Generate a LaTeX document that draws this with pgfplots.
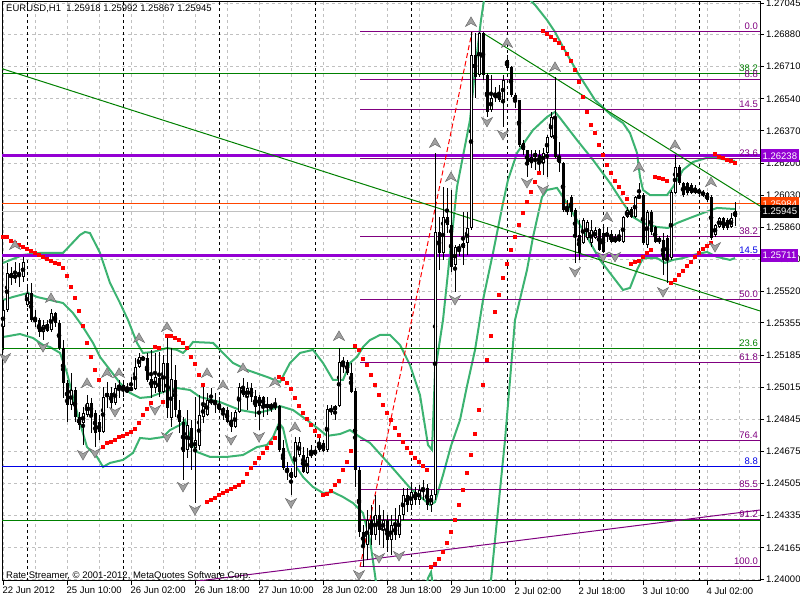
\documentclass[border=0pt]{standalone}
\usepackage{pgfplots}
\pgfplotsset{compat=1.18}
\usepackage{pgfplotstable}
\usepackage{fontspec}
\setmainfont{Liberation Sans}

\definecolor{bband}{RGB}{60,179,113}
\definecolor{fib}{RGB}{128,0,128}
\definecolor{dviolet}{RGB}{148,0,211}
\definecolor{lgreen}{RGB}{0,128,0}
\definecolor{lblue}{RGB}{0,0,230}
\definecolor{gridc}{RGB}{192,192,192}
\definecolor{ored}{RGB}{255,69,0}
\definecolor{fracfill}{RGB}{160,160,160}
\definecolor{fracdraw}{RGB}{110,110,110}

\pgfdeclareplotmark{fracup}{%
  \pgfpathmoveto{\pgfpoint{0bp}{5bp}}%
  \pgfpathlineto{\pgfpoint{5.5bp}{-4.5bp}}%
  \pgfpathlineto{\pgfpoint{0bp}{-1.5bp}}%
  \pgfpathlineto{\pgfpoint{-5.5bp}{-4.5bp}}%
  \pgfpathclose
  \pgfusepathqfillstroke}
\pgfdeclareplotmark{fracdown}{%
  \pgfpathmoveto{\pgfpoint{0bp}{-5bp}}%
  \pgfpathlineto{\pgfpoint{5.5bp}{4.5bp}}%
  \pgfpathlineto{\pgfpoint{0bp}{1.5bp}}%
  \pgfpathlineto{\pgfpoint{-5.5bp}{4.5bp}}%
  \pgfpathclose
  \pgfusepathqfillstroke}

\newcommand\lbl{\fontsize{9.5bp}{11bp}\selectfont}
\newcommand\fiblab[3]{\node[anchor=base east, inner sep=0pt, text=#1, font=\lbl, yshift=2bp] at (axis cs:188.75,#2) {#3};}
\newcommand\pricebox[3]{\node[anchor=west, fill=#1, text=white, inner xsep=2bp, inner ysep=0pt, minimum height=13bp, font=\lbl, xshift=0.5bp] at (axis cs:189.25,#2) {#3};}

% EURUSD H1 bars: index, open, high, low, close
\pgfplotstableread{
i o h l c
0 1.25333 1.25476 1.25211 1.25423
1 1.25423 1.25672 1.25412 1.25619
2 1.25619 1.25651 1.25555 1.25592
3 1.25592 1.25677 1.25566 1.25608
4 1.25619 1.25672 1.25545 1.25608
5 1.25598 1.25704 1.25571 1.25677
6 1.25450 1.25555 1.25439 1.25513
7 1.25513 1.25566 1.25360 1.25370
8 1.25381 1.25423 1.25333 1.25360
9 1.25370 1.25381 1.25280 1.25307
10 1.25307 1.25370 1.25264 1.25344
11 1.25349 1.25370 1.25307 1.25312
12 1.25317 1.25428 1.25307 1.25407
13 1.25407 1.25413 1.25333 1.25354
14 1.25354 1.25370 1.25211 1.25222
15 1.25222 1.25264 1.24958 1.25037
16 1.25037 1.25053 1.24831 1.24921
17 1.24921 1.25090 1.24894 1.25000
18 1.25000 1.25016 1.24831 1.24857
19 1.24857 1.24884 1.24788 1.24815
20 1.24825 1.24910 1.24709 1.24878
21 1.24868 1.24973 1.24857 1.24931
22 1.24931 1.24958 1.24772 1.24868
23 1.24878 1.24894 1.24698 1.24772
24 1.24831 1.24868 1.24735 1.24778
25 1.24778 1.25016 1.24772 1.24963
26 1.24963 1.25042 1.24905 1.24984
27 1.24984 1.25016 1.24894 1.24931
28 1.24931 1.25037 1.24921 1.25010
29 1.25010 1.25053 1.24958 1.25026
30 1.25026 1.25042 1.24963 1.25000
31 1.24989 1.25037 1.24984 1.25005
32 1.25000 1.25069 1.24995 1.25010
33 1.25005 1.25169 1.25000 1.25122
34 1.25122 1.25196 1.25116 1.25175
35 1.25164 1.25180 1.25153 1.25169
36 1.25169 1.25196 1.25042 1.25053
37 1.25058 1.25212 1.24958 1.25010
38 1.25010 1.25196 1.24984 1.25069
39 1.25063 1.25201 1.24963 1.24989
40 1.24989 1.25185 1.24984 1.25143
41 1.25143 1.25280 1.24852 1.24905
42 1.24852 1.25222 1.24804 1.25058
43 1.25053 1.25132 1.24857 1.24894
44 1.24894 1.24947 1.24772 1.24831
45 1.24831 1.24857 1.24524 1.24672
46 1.24683 1.24894 1.24640 1.24815
47 1.24799 1.24841 1.24577 1.24693
48 1.24693 1.24963 1.24402 1.24735
49 1.24704 1.24973 1.24683 1.24868
50 1.24857 1.25026 1.24825 1.24915
51 1.24868 1.24984 1.24862 1.24947
52 1.24947 1.25010 1.24921 1.24936
53 1.24931 1.24984 1.24878 1.24942
54 1.24926 1.24963 1.24878 1.24894
55 1.24905 1.24910 1.24841 1.24884
56 1.24894 1.24910 1.24825 1.24831
57 1.24841 1.24884 1.24778 1.24804
58 1.24804 1.24894 1.24799 1.24884
59 1.24884 1.25037 1.24878 1.25016
60 1.25010 1.25063 1.24963 1.24973
61 1.24963 1.25042 1.24894 1.25010
62 1.25010 1.25037 1.24936 1.24963
63 1.24968 1.25000 1.24857 1.24910
64 1.24963 1.24973 1.24788 1.24915
65 1.24963 1.24968 1.24857 1.24915
66 1.24921 1.24963 1.24868 1.24910
67 1.24910 1.24931 1.24884 1.24921
68 1.24921 1.24958 1.24894 1.24910
69 1.24915 1.24921 1.24672 1.24683
70 1.24693 1.24735 1.24577 1.24587
71 1.24587 1.24619 1.24524 1.24566
72 1.24566 1.24587 1.24444 1.24534
73 1.24540 1.24751 1.24534 1.24725
74 1.24656 1.24751 1.24646 1.24725
75 1.24656 1.24698 1.24561 1.24566
76 1.24561 1.24693 1.24556 1.24646
77 1.24656 1.24709 1.24640 1.24667
78 1.24667 1.24698 1.24651 1.24672
79 1.24720 1.24762 1.24672 1.24683
80 1.24720 1.24735 1.24672 1.24677
81 1.24683 1.24921 1.24672 1.24899
82 1.24889 1.24921 1.24868 1.24899
83 1.24894 1.24921 1.24841 1.24915
84 1.24915 1.25222 1.24910 1.25148
85 1.25143 1.25175 1.25090 1.25148
86 1.25148 1.25159 1.25079 1.25090
87 1.25090 1.25143 1.24984 1.24989
88 1.24995 1.25010 1.24487 1.24577
89 1.24577 1.24593 1.24222 1.24249
90 1.24249 1.24286 1.24064 1.24180
91 1.24180 1.24365 1.24101 1.24312
92 1.24312 1.24392 1.24180 1.24233
93 1.24233 1.24444 1.24206 1.24339
94 1.24339 1.24392 1.24180 1.24259
95 1.24259 1.24365 1.24164 1.24312
96 1.24312 1.24339 1.24143 1.24206
97 1.24206 1.24339 1.24127 1.24286
98 1.24286 1.24376 1.24206 1.24233
99 1.24233 1.24392 1.24217 1.24339
100 1.24339 1.24482 1.24312 1.24444
101 1.24444 1.24482 1.24355 1.24392
102 1.24392 1.24497 1.24365 1.24460
103 1.24460 1.24487 1.24392 1.24418
104 1.24418 1.24497 1.24392 1.24471
105 1.24471 1.24524 1.24418 1.24482
106 1.24482 1.24503 1.24365 1.24392
107 1.24392 1.24471 1.24355 1.24444
108 1.24444 1.26254 1.24418 1.25836
109 1.25836 1.25915 1.25635 1.25725
110 1.25725 1.26074 1.25688 1.25915
111 1.25915 1.26069 1.25830 1.25873
112 1.25873 1.26058 1.25624 1.25651
113 1.25661 1.25767 1.25518 1.25756
114 1.25746 1.25772 1.25709 1.25756
115 1.25751 1.25942 1.25661 1.25778
116 1.25778 1.25942 1.25714 1.25857
117 1.25857 1.26894 1.25846 1.26772
118 1.26772 1.26888 1.26545 1.26656
119 1.26666 1.26894 1.26656 1.26888
120 1.26888 1.26894 1.26640 1.26666
121 1.26666 1.26677 1.26444 1.26471
122 1.26481 1.26666 1.26471 1.26545
123 1.26545 1.26603 1.26523 1.26571
124 1.26571 1.26613 1.26523 1.26534
125 1.26534 1.26666 1.26391 1.26640
126 1.26746 1.26772 1.26693 1.26703
127 1.26709 1.26714 1.26550 1.26560
128 1.26560 1.26571 1.26492 1.26523
129 1.26534 1.26534 1.26285 1.26296
130 1.26307 1.26322 1.26243 1.26270
131 1.26270 1.26270 1.26127 1.26190
132 1.26201 1.26270 1.26174 1.26233
133 1.26254 1.26270 1.26164 1.26233
134 1.26243 1.26270 1.26137 1.26201
135 1.26201 1.26280 1.26137 1.26254
136 1.26254 1.26349 1.26127 1.26338
137 1.26338 1.26471 1.26333 1.26444
138 1.26444 1.26656 1.26227 1.26233
139 1.26233 1.26312 1.26153 1.26201
140 1.26201 1.26206 1.25942 1.25952
141 1.25963 1.26005 1.25926 1.25942
142 1.26021 1.26031 1.25915 1.25942
143 1.25952 1.25963 1.25672 1.25809
144 1.25820 1.25899 1.25688 1.25725
145 1.25778 1.25910 1.25772 1.25899
146 1.25804 1.25899 1.25793 1.25889
147 1.25778 1.25899 1.25756 1.25846
148 1.25804 1.25862 1.25799 1.25846
149 1.25852 1.25857 1.25735 1.25741
150 1.25830 1.25862 1.25725 1.25730
151 1.25825 1.25862 1.25783 1.25820
152 1.25825 1.25846 1.25778 1.25783
153 1.25783 1.25825 1.25778 1.25804
154 1.25788 1.25846 1.25783 1.25809
155 1.25783 1.25920 1.25778 1.25915
156 1.25915 1.25968 1.25910 1.25952
157 1.25957 1.25968 1.25910 1.25915
158 1.25915 1.26026 1.25910 1.26021
159 1.26016 1.26095 1.26010 1.26031
160 1.26031 1.26042 1.25767 1.25778
161 1.25767 1.25952 1.25751 1.25942
162 1.25942 1.25952 1.25820 1.25836
163 1.25862 1.25868 1.25778 1.25783
164 1.25783 1.25815 1.25772 1.25804
165 1.25793 1.25830 1.25608 1.25688
166 1.25804 1.25820 1.25566 1.25688
167 1.25698 1.26058 1.25688 1.26047
168 1.26042 1.26243 1.26037 1.26180
169 1.26180 1.26190 1.26084 1.26095
170 1.26095 1.26100 1.26021 1.26031
171 1.26095 1.26100 1.26031 1.26042
172 1.26084 1.26095 1.26037 1.26042
173 1.26069 1.26084 1.26037 1.26042
174 1.26058 1.26063 1.26037 1.26042
175 1.26047 1.26058 1.26021 1.26031
176 1.26042 1.26047 1.25994 1.26005
177 1.26021 1.26031 1.25793 1.25804
178 1.25820 1.25878 1.25809 1.25873
179 1.25862 1.25915 1.25857 1.25910
180 1.25910 1.25915 1.25846 1.25857
181 1.25899 1.25910 1.25846 1.25857
182 1.25862 1.25936 1.25857 1.25910
183 1.25918 1.25992 1.25867 1.25945
}\bars

\begin{document}
\begin{tikzpicture}
\useasboundingbox (-2bp,-19bp) rectangle (798bp,581bp);
\begin{axis}[
  scale only axis, width=758bp, height=579bp,
  xmin=-0.25, xmax=189.25, ymin=1.239895, ymax=1.270524,
  clip mode=individual,
  axis line style={black, line width=1bp},
  tick align=outside, major tick length=4bp, minor tick length=0pt,
  tick style={black, line width=1bp},
  xtick pos=bottom, ytick pos=right,
  xtick={0,16,...,176},
  xticklabels={22 Jun 2012,25 Jun 10:00,26 Jun 02:00,26 Jun 18:00,27 Jun 10:00,28 Jun 02:00,28 Jun 18:00,29 Jun 10:00,2 Jul 02:00,2 Jul 18:00,3 Jul 10:00,4 Jul 02:00},
  minor xtick={8,24,...,184},
  xmajorgrids, xminorgrids, ymajorgrids,
  major grid style={gridc, dash pattern=on 3bp off 3bp, line width=1bp},
  minor grid style={gridc, dash pattern=on 3bp off 3bp, line width=1bp},
  extra x ticks={6,30,54,78,102,126,150,174},
  extra x tick labels={},
  extra x tick style={major tick length=0pt, major grid style={black, dash pattern=on 3bp off 3bp, line width=1bp}},
  ytick={1.24,1.24165,1.24335,1.24505,1.24675,1.24845,1.25015,1.25185,1.25355,1.2552,1.2569,1.2586,1.2603,1.262,1.2637,1.2654,1.2671,1.2688,1.27045},
  yticklabels={1.24000,1.24165,1.24335,1.24505,1.24675,1.24845,1.25015,1.25185,1.25355,1.25520,1.25690,1.25860,1.26030,1.26200,1.26370,1.26540,1.26710,1.26880,1.27045},
  tick label style={font=\lbl, inner sep=0pt},
  xticklabel style={anchor=north west, xshift=-0.5bp, yshift=-2bp},
  yticklabel style={anchor=west, xshift=2bp},
]

% Bollinger bands
\addplot[bband, line width=2bp] coordinates {(0,1.25672)(5,1.25714)(9.25,1.25725)(15,1.25725)(19.25,1.25820)(20.5,1.25836)(21.75,1.25830)(24.25,1.25725)(26.75,1.25566)(29.25,1.25460)(31.25,1.25370)(33.5,1.25249)(35,1.25196)(37.5,1.25201)(41,1.25222)(43.5,1.25212)(45,1.25196)(46.75,1.25233)(47.5,1.25254)(52.5,1.25249)(57.5,1.25143)(61,1.25106)(66,1.25069)(69.25,1.25042)(71.75,1.25143)(74.25,1.25196)(77.5,1.25212)(80,1.25143)(82.5,1.25053)(85,1.25053)(86.75,1.25143)(88.5,1.25175)(90,1.25227)(91.75,1.25264)(94.25,1.25291)(96.75,1.25291)(99.25,1.25238)(101.75,1.25132)(104.25,1.24973)(106.25,1.24709)(107.25,1.24683)(108,1.25095)(110,1.25370)(113.5,1.26074)(116.75,1.26428)(118,1.26693)(119.5,1.26957)(121,1.27169)(123,1.27354)(125,1.27391)(127,1.27301)(129,1.27142)(131,1.27079)(133,1.27037)(136,1.26957)(138,1.26894)(140,1.26814)(144,1.26666)(148,1.26534)(152,1.26455)(155,1.26412)(156.75,1.26359)(158.5,1.26254)(159.25,1.26127)(160,1.26058)(161.75,1.26031)(166,1.26031)(167.5,1.26074)(170,1.26164)(172.5,1.26206)(176.75,1.26233)(181,1.26217)(183,1.26211)};
\addplot[bband, line width=2bp] coordinates {(0,1.25476)(2.5,1.25492)(6.25,1.25513)(8.5,1.25492)(11.75,1.25476)(15,1.25460)(17.5,1.25407)(20,1.25333)(22.5,1.25249)(24.25,1.25175)(26.75,1.25106)(29.25,1.25037)(31.75,1.24984)(34.25,1.24958)(36.75,1.24963)(40,1.24989)(43.5,1.25010)(46.75,1.25000)(49.25,1.24963)(54.25,1.24936)(59.25,1.24894)(63.5,1.24878)(66.75,1.24894)(69.25,1.24915)(72.5,1.24894)(76,1.24841)(79.25,1.24788)(81,1.24757)(84.25,1.24767)(86.75,1.24788)(89.25,1.24751)(91.75,1.24720)(96.75,1.24603)(101.75,1.24482)(106.75,1.24392)(108,1.24407)(110,1.24550)(112,1.24704)(114.25,1.24841)(116,1.25021)(118,1.25211)(120,1.25476)(122.5,1.25725)(125,1.25989)(126.25,1.26111)(128.5,1.26254)(132.5,1.26375)(136,1.26444)(138,1.26471)(139.25,1.26439)(143.5,1.26322)(147.5,1.26217)(151.75,1.26095)(155,1.25989)(157.5,1.25915)(160,1.25883)(163.5,1.25862)(166.25,1.25857)(168.5,1.25883)(171.75,1.25910)(175,1.25936)(178.5,1.25963)(183,1.25957)};
\addplot[bband, line width=2bp] coordinates {(0,1.25280)(4.25,1.25296)(7.5,1.25275)(10,1.25238)(11.75,1.25227)(14.25,1.25196)(16,1.25090)(17.5,1.24963)(19.25,1.24825)(21,1.24698)(23.5,1.24646)(25,1.24593)(26.75,1.24614)(30,1.24630)(32.5,1.24667)(34.25,1.24746)(36.75,1.24741)(40,1.24751)(41.75,1.24788)(44.25,1.24815)(45.5,1.24841)(47,1.24735)(48.5,1.24672)(51.75,1.24646)(56,1.24646)(60,1.24656)(63.5,1.24698)(66,1.24709)(67.5,1.24751)(69,1.24825)(70,1.24799)(71.25,1.24683)(72.5,1.24619)(75,1.24540)(77.5,1.24487)(80,1.24455)(82.5,1.24460)(85,1.24434)(87.5,1.24402)(90,1.24349)(91.75,1.24206)(93,1.24021)(94.25,1.23836)(98,1.23625)(101.75,1.23677)(104.25,1.23810)(106.25,1.24005)(107,1.24037)(108,1.23889)(109.25,1.23572)(114.25,1.23043)(119.25,1.23360)(121.25,1.23783)(122,1.23995)(123.5,1.24312)(125.5,1.24735)(128,1.25370)(131,1.25635)(132.5,1.25809)(134.75,1.26021)(136,1.26058)(138.5,1.26069)(140,1.26021)(145,1.25846)(149.25,1.25688)(152.5,1.25598)(155,1.25529)(156.75,1.25540)(158.5,1.25635)(160,1.25698)(163.5,1.25698)(165.5,1.25672)(167.5,1.25688)(170,1.25698)(172.5,1.25714)(176,1.25730)(178.5,1.25704)(181.75,1.25688)(183,1.25698)};

% horizontal levels across the whole chart
\addplot[gridc, line width=1bp] coordinates {(-1,1.25945)(190,1.25945)};
\addplot[ored, line width=1bp] coordinates {(-1,1.25984)(190,1.25984)};
\addplot[lgreen, line width=1bp] coordinates {(-1,1.26672)(190,1.26672)};
\addplot[lgreen, line width=1bp] coordinates {(-1,1.25217)(190,1.25217)};
\addplot[lgreen, line width=1bp] coordinates {(-1,1.24312)(190,1.24312)};
\addplot[lblue, line width=1bp] coordinates {(-1,1.24593)(190,1.24593)};
\addplot[lblue, line width=1bp] coordinates {(-1,1.25711)(190,1.25711)};
\addplot[dviolet, line width=3bp] coordinates {(-1,1.26238)(190,1.26238)};
\addplot[dviolet, line width=3bp] coordinates {(-1,1.25711)(190,1.25711)};

% Fibonacci retracement levels
\addplot[fib, line width=1bp] coordinates {(89.25,1.26894)(190,1.26894)};
\addplot[fib, line width=1bp] coordinates {(89.25,1.26645)(190,1.26645)};
\addplot[fib, line width=1bp] coordinates {(89.25,1.26484)(190,1.26484)};
\addplot[fib, line width=1bp] coordinates {(89.25,1.26226)(190,1.26226)};
\addplot[fib, line width=1bp] coordinates {(89.25,1.25813)(190,1.25813)};
\addplot[fib, line width=1bp] coordinates {(89.25,1.25479)(190,1.25479)};
\addplot[fib, line width=1bp] coordinates {(89.25,1.25145)(190,1.25145)};
\addplot[fib, line width=1bp] coordinates {(89.25,1.24732)(190,1.24732)};
\addplot[fib, line width=1bp] coordinates {(89.25,1.24474)(190,1.24474)};
\addplot[fib, line width=1bp] coordinates {(89.25,1.24313)(190,1.24313)};
\addplot[fib, line width=1bp] coordinates {(89.25,1.24064)(190,1.24064)};
\addplot[red, line width=1bp, dash pattern=on 5bp off 3bp] coordinates {(89.25,1.24064)(117.25,1.26894)};

% trend lines
\addplot[lgreen, line width=1bp] coordinates {(-0.75,1.26703)(189.25,1.25418)};
\addplot[lgreen, line width=1bp] coordinates {(120,1.26888)(189.25,1.25973)};
\addplot[fib, line width=1bp] coordinates {(46.75,1.23984)(189.25,1.24365)};

% candles: wicks, bodies, white fill of rising bars
\addplot[only marks, mark=none, error bars/.cd, y dir=both, y explicit, error mark=none,
  error bar style={draw=black, line width=1bp}]
  table[x=i, y expr={(\thisrow{h}+\thisrow{l})/2}, y error expr={(\thisrow{h}-\thisrow{l})/2}] {\bars};
\addplot[only marks, mark=none, error bars/.cd, y dir=both, y explicit, error mark=none,
  error bar style={draw=black, line width=3bp}]
  table[x=i, y expr={(\thisrow{o}+\thisrow{c})/2}, y error expr={max(abs(\thisrow{c}-\thisrow{o})/2,0.00003)}] {\bars};
\addplot[only marks, mark=none, error bars/.cd, y dir=both, y explicit, error mark=none,
  error bar style={draw=white, line width=1bp}]
  table[x=i, y expr={(\thisrow{o}+\thisrow{c})/2}, y error expr={max((\thisrow{c}-\thisrow{o})/2-0.00005,0)}] {\bars};

% parabolic SAR
\addplot[only marks, mark=square*, mark size=1.5bp, mark options={draw=red, fill=red, line width=0pt}] coordinates {
(0,1.25809)(1,1.25809)(2,1.25788)(3,1.25778)(4,1.25767)(5,1.25756)(6,1.25746)(7,1.25735)(8,1.25725)(9,1.25714)(10,1.25704)(11,1.25693)(12,1.25682)(13,1.25672)(14,1.25666)(15,1.25645)(16,1.25603)(17,1.25545)(18,1.25487)(19,1.25418)(20,1.25339)(21,1.25249)(22,1.25175)(23,1.25106)(24,1.25053)
(25,1.24698)(26,1.24720)(27,1.24725)(28,1.24735)(29,1.24751)(30,1.24757)(31,1.24767)(32,1.24778)(33,1.24794)(34,1.24825)(35,1.24868)(36,1.24899)(37,1.24931)
(38,1.25227)(39,1.25222)(40,1.24936)
(41,1.25286)(42,1.25286)(43,1.25275)(44,1.25264)(45,1.25249)(46,1.25222)(47,1.25175)(48,1.25137)(49,1.25079)(50,1.25026)
(51,1.24407)(52,1.24418)(53,1.24429)(54,1.24444)(55,1.24455)(56,1.24466)(57,1.24476)(58,1.24487)(59,1.24497)(60,1.24513)(61,1.24556)(62,1.24587)(63,1.24614)(64,1.24640)(65,1.24667)(66,1.24693)(67,1.24720)(68,1.24746)
(69,1.25069)(70,1.25058)(71,1.25037)(72,1.25005)(73,1.24958)(74,1.24915)(75,1.24878)(76,1.24847)(77,1.24815)(78,1.24783)(79,1.24757)
(80,1.24444)(81,1.24450)(82,1.24466)(83,1.24497)(84,1.24519)(85,1.24577)(86,1.24619)(87,1.24677)
(88,1.25233)(89,1.25211)(90,1.25164)(91,1.25132)(92,1.25079)(93,1.25026)(94,1.24973)(95,1.24921)(96,1.24878)(97,1.24841)(98,1.24799)(99,1.24762)(100,1.24725)(101,1.24693)(102,1.24667)(103,1.24640)(104,1.24619)(105,1.24598)(106,1.24577)
(107,1.24064)(108,1.24079)(109,1.24106)(110,1.24143)(111,1.24191)(112,1.24249)(113,1.24312)(114,1.24392)(115,1.24471)(116,1.24561)(117,1.24656)(118,1.24767)(119,1.24894)(120,1.25026)(121,1.25159)(122,1.25286)(123,1.25412)(124,1.25502)(125,1.25592)(126,1.25666)(127,1.25741)(128,1.25809)(129,1.25873)(130,1.25936)(131,1.25994)(132,1.26047)(133,1.26100)(134,1.26148)
(135,1.26899)(136,1.26883)(137,1.26867)(138,1.26851)(139,1.26836)(140,1.26809)(141,1.26777)(142,1.26740)(143,1.26693)(144,1.26629)(145,1.26550)(146,1.26471)(147,1.26402)(148,1.26359)(149,1.26296)(150,1.26243)(151,1.26190)(152,1.26148)(153,1.26105)(154,1.26074)(155,1.26042)(156,1.26010)
(157,1.25666)(158,1.25677)(159,1.25682)(160,1.25704)(161,1.25725)(162,1.25741)
(163,1.26127)(164,1.26121)(165,1.26116)(166,1.26105)
(167,1.25566)(168,1.25582)(169,1.25608)(170,1.25629)(171,1.25656)(172,1.25677)(173,1.25704)(174,1.25725)(175,1.25746)(176,1.25762)(177,1.25778)
(178,1.26248)(179,1.26233)(180,1.26227)(181,1.26217)(182,1.26211)(183,1.26201)};

% fractals
\addplot[only marks, mark=fracup, mark options={fill=fracfill, draw=fracdraw, line width=0.5bp}] coordinates {
(3,1.25767)(12,1.25487)(21,1.25037)(26,1.25090)(29,1.25090)(34,1.25275)(41,1.25333)(51,1.25090)(55,1.25026)(60,1.25116)(68,1.25042)(73,1.24804)(84,1.25286)(108,1.26307)(112,1.26127)(117,1.26947)(126,1.26836)(138,1.26709)(151,1.25915)(159,1.26180)(168,1.26296)(177,1.26100)};
\addplot[only marks, mark=fracdown, mark options={fill=fracfill, draw=fracdraw, line width=0.5bp}] coordinates {
(0.5,1.25169)(10,1.25227)(20,1.24656)(23,1.24667)(28,1.24884)(38,1.24894)(41,1.24751)(45,1.24487)(48,1.24365)(57,1.24735)(64,1.24751)(72,1.24402)(89,1.24021)(94,1.24111)(99,1.24122)(113,1.25476)(121,1.26418)(125,1.26349)(131,1.26095)(135,1.26058)(143,1.25624)(150,1.25704)(153,1.25704)(165,1.25518)(178,1.25756)};

% level captions
\fiblab{lgreen}{1.26672}{38.2}
\fiblab{lgreen}{1.25217}{23.6}
\fiblab{lblue}{1.25711}{14.5}
\fiblab{lblue}{1.24593}{8.8}
\fiblab{fib}{1.26894}{0.0}
\fiblab{fib}{1.26645}{8.8}
\fiblab{fib}{1.26484}{14.5}
\fiblab{fib}{1.26226}{23.6}
\fiblab{fib}{1.25813}{38.2}
\fiblab{fib}{1.25479}{50.0}
\fiblab{fib}{1.25145}{61.8}
\fiblab{fib}{1.24732}{76.4}
\fiblab{fib}{1.24474}{85.5}
\fiblab{fib}{1.24313}{91.2}
\fiblab{fib}{1.24064}{100.0}

\pricebox{dviolet}{1.26238}{1.26238}
\pricebox{dviolet}{1.25711}{1.25711}
\pricebox{ored}{1.25984}{1.25984}
\pricebox{black}{1.25945}{1.25945}
\end{axis}
\node[anchor=north west, inner sep=0pt, font=\lbl] at (4bp,576.5bp) {EURUSD,H1\ \ 1.25918 1.25992 1.25867 1.25945};
\node[anchor=base west, inner sep=0pt, font=\lbl] at (4bp,3bp) {Rate Streamer, © 2001-2012, MetaQuotes Software Corp.};
\end{tikzpicture}
\end{document}
